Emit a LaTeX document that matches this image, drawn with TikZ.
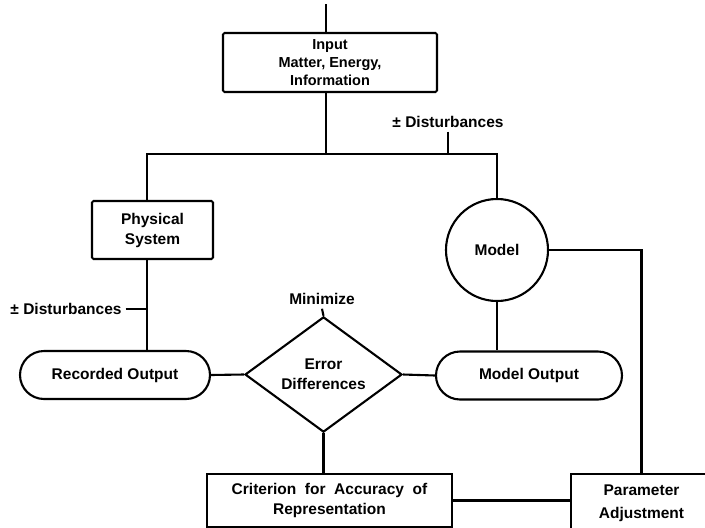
\documentclass[tikz,border=0pt]{standalone}
\usepackage{fontspec}
\setmainfont{Liberation Sans}
\usepackage{amsmath}
\usepackage{tikz}
\usetikzlibrary{shapes.geometric}

\tikzset{
    txt/.style={font=\bfseries\fontsize{15.5}{20}\selectfont, align=center, inner sep=3pt},
    boxnode/.style={txt, draw, rectangle, rounded corners=1.5pt},
    outnode/.style={txt, draw, rectangle, rounded corners=24pt, minimum height=48pt},
}

\begin{document}
\begin{tikzpicture}[x=1pt, y=-1pt, line width=2.1pt]
    \useasboundingbox (0,0) rectangle (705,528);
    \clip (0,0) rectangle (705,528);

    % Input
    \coordinate (src) at (326,4);
    \node[boxnode, minimum width=214pt, minimum height=59pt,
        font=\bfseries\fontsize{14.5}{18}\selectfont] (input) at (330,62.5)
        {Input\\Matter, Energy,\\Information};
    \draw (src) -- (input.north -| src);

    % Split to system and model
    \coordinate (split) at (326,154);
    \coordinate (lbranch) at (147,154);
    \node[txt] (distup) at (448,122) {± Disturbances};

    \node[boxnode, minimum width=121pt, minimum height=58pt] (physical) at (152.5,230)
        {Physical\\System};
    \node[txt, draw, circle, minimum size=102pt, inner sep=0pt] (model) at (497,250) {Model};

    \draw (input.south -| split) -- (split);
    \draw (lbranch |- physical.north) -- (lbranch) -- (lbranch -| model.north) -- (model.north);
    \draw (distup.south) -- (distup.south |- split);

    % Outputs and error
    \node[outnode, minimum width=190pt] (recorded) at (115,375) {Recorded Output};
    \node[outnode, minimum width=186pt] (modelout) at (529,375.5) {Model Output};
    \node[txt, draw, diamond, minimum width=157pt, minimum height=75pt, inner sep=0pt] (error)
        at (323.5,374.5) {Error\\Differences};
    \node[txt] (minimize) at (322,299) {Minimize};
    \node[txt] (distdown) at (66,309) {± Disturbances};

    \draw (lbranch |- physical.south) -- (lbranch |- recorded.north);
    \draw (distdown.east) -- (distdown.east -| lbranch);
    \draw (model.south) -- (model.south |- modelout.north);
    \draw (recorded.east) -- (error.west);
    \draw (error.east) -- (modelout.west);
    \draw (minimize.south) -- (error.north);

    % Criterion and parameter adjustment
    \node[boxnode, rounded corners=0pt, minimum width=245pt, minimum height=53pt] (criterion)
        at (329.5,500.5) {Criterion\ \ for\ \ Accuracy\ \ of\\Representation};
    \node[boxnode, rounded corners=0pt, minimum width=141pt, minimum height=59pt,
        font=\bfseries\fontsize{15.5}{23}\selectfont] (param) at (641.5,503.5)
        {Parameter\\Adjustment};

    \draw (error.south) -- (error.south |- criterion.north);
    \draw (criterion.east) -- (criterion.east -| param.west);
    \draw (model.east) -| (param.north);
\end{tikzpicture}
\end{document}
